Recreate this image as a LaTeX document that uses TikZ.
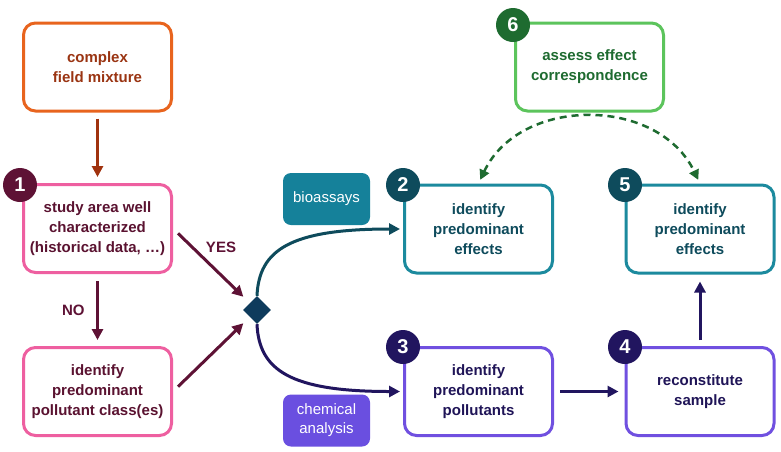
\documentclass[tikz,border=0pt]{standalone}
\usepackage{fontspec}
\setmainfont{Liberation Sans}
\usetikzlibrary{shapes.geometric,arrows.meta}
\definecolor{orB}{HTML}{E8641E}
\definecolor{orT}{HTML}{9A3412}
\definecolor{orA}{HTML}{A0320E}
\definecolor{pkB}{HTML}{EE5FA0}
\definecolor{pkT}{HTML}{5A1230}
\definecolor{pkD}{HTML}{5E1235}
\definecolor{tlB}{HTML}{1C8A9E}
\definecolor{tlT}{HTML}{0E4B5C}
\definecolor{tlF}{HTML}{15819A}
\definecolor{puB}{HTML}{7050E0}
\definecolor{puT}{HTML}{1F1457}
\definecolor{puD}{HTML}{21155F}
\definecolor{puF}{HTML}{6A4FE0}
\definecolor{grB}{HTML}{5CC45C}
\definecolor{grT}{HTML}{1E6B30}
\definecolor{dmC}{HTML}{0E3B5C}
\tikzset{
  box/.style={draw, line width=3pt, rounded corners=12pt, minimum width=148pt, minimum height=88pt,
    align=center, font=\bfseries\fontsize{15}{20}\selectfont, fill=white},
  badge/.style={circle, minimum size=34pt, inner sep=0pt, text=white, font=\bfseries\fontsize{20}{20}\selectfont},
  tag/.style={rounded corners=8pt, minimum width=87pt, minimum height=52pt, inner sep=2pt,
    align=center, text=white, font=\fontsize{15}{19}\selectfont},
  arr/.style={line width=3pt, -{Triangle[length=11pt,width=11pt]}},
  lbl/.style={font=\bfseries\fontsize{15}{18}\selectfont}
}
\begin{document}
\begin{tikzpicture}[x=1pt,y=-1pt]
\useasboundingbox (0,0) rectangle (781,451);
\fill[white] (0,0) rectangle (781,451);
% boxes
\node[box, draw=orB, text=orT] (cfm) at (97.5,67) {complex\\field mixture};
\node[box, draw=pkB, text=pkT] (b1) at (97.5,228.5) {study area well\\characterized\\(historical data, …)};
\node[box, draw=pkB, text=pkT] (bc) at (97.5,391.5) {identify\\predominant\\pollutant class(es)};
\node[box, draw=tlB, text=tlT] (b2) at (478.5,229) {identify\\predominant\\effects};
\node[box, draw=tlB, text=tlT] (b5) at (700,229) {identify\\predominant\\effects};
\node[box, draw=puB, text=puT] (b3) at (478.5,391.5) {identify\\predominant\\pollutants};
\node[box, draw=puB, text=puT] (b4) at (700,391.5) {reconstitute\\sample};
\node[box, draw=grB, text=grT] (b6) at (589.5,67) {assess effect\\correspondence};
% badges
\node[badge, fill=pkD] (n1) at (20,185) {1};
\node[badge, fill=tlT] (n2) at (403,185) {2};
\node[badge, fill=puD] (n3) at (403,347) {3};
\node[badge, fill=puD] (n4) at (625,347) {4};
\node[badge, fill=tlT] (n5) at (625,185) {5};
\node[badge, fill=grT] (n6) at (513,25) {6};
% tags
\node[tag, fill=tlF] (bio) at (326.5,199) {bioassays};
\node[tag, fill=puF] (chem) at (326.5,420.5) {chemical\\analysis};
% diamond
\node[diamond, fill=dmC, minimum size=28pt, inner sep=0pt] (d) at (257,310) {};
% arrows
\draw[arr, draw=orA] (cfm.south) -- (b1.north) [shorten <=6pt, shorten >=6pt];
\draw[arr, draw=pkD, shorten <=7pt, shorten >=6pt] (b1.south) -- node[lbl, text=pkD, left=8pt] (no) {NO} (bc.north);
\draw[arr, draw=pkD, shorten <=7pt, shorten >=19pt] (b1.east) -- (d.center);
\node[lbl, text=pkD] (yes) at (221,247) {YES};
\draw[arr, draw=pkD, shorten <=7pt, shorten >=19pt] (bc.east) -- (d.center);
\draw[arr, draw=tlT, shorten >=3pt] (d.north) .. controls (259,250) and (290,229) .. (b2.west);
\draw[arr, draw=puD, shorten >=3pt] (d.south) .. controls (259,370) and (290,391.5) .. (b3.west);
\draw[arr, draw=puD, shorten <=6pt, shorten >=6pt] (b3.east) -- (b4.west);
\draw[arr, draw=puD, shorten <=6pt, shorten >=7pt] (b4.north) -- (b5.south);
\draw[line width=2.5pt, draw=grT, dash pattern=on 7pt off 5pt,
  {Triangle[length=10pt,width=10pt]}-{Triangle[length=10pt,width=10pt]},
  shorten <=4pt, shorten >=4pt] (b2.north) .. controls (520,96) and (658,96) .. (b5.north);
\end{tikzpicture}
\end{document}
